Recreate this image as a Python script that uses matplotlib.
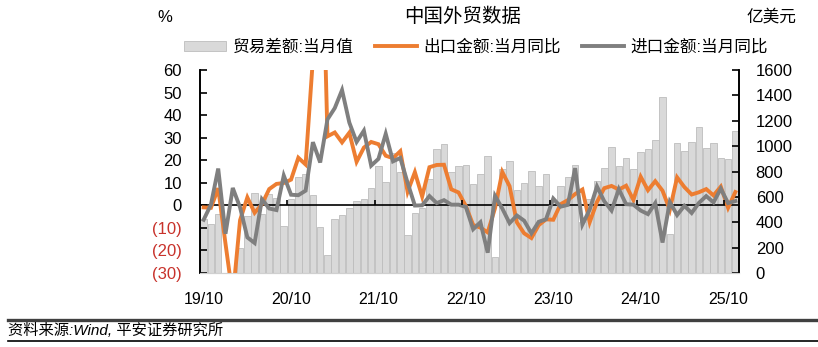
import numpy as np
import matplotlib
matplotlib.use('Agg')
import matplotlib.pyplot as plt
from matplotlib.patches import Patch
from matplotlib.lines import Line2D

plt.rcParams['font.family'] = ['Liberation Sans', 'Noto Sans CJK SC', 'DejaVu Sans']
plt.rcParams['axes.unicode_minus'] = False

# 2019/10 ~ 2025/11 月度数据
months = [f'{y % 100:02d}/{m:02d}' for y in range(2019, 2026) for m in range(1, 13)][9:9 + 74]

# 贸易差额:当月值 (亿美元)
balance = [428, 387, 468, np.nan, np.nan, 199, 453, 630, 464, 623, 589, 370,
           584, 754, 781, 617, 362, 138, 428, 455, 515, 566, 583, 667,
           845, 717, 944, 800, 300, 473, 511, 740, 979, 1013, 793, 847,
           852, 698, 780, 920, 126, 820, 880, 658, 706, 806, 683, 777,
           566, 684, 753, 850, 400, 585, 723, 826, 990, 846, 910, 817,
           957, 974, 1048, 1391, 310, 1027, 961, 1032, 1148, 982, 1023, 905,
           901, 1116]

# 出口金额:当月同比 (%)
export_yoy = [-0.9, -1.1, 7.6, -17.0, -40.6, -6.6, 3.5, -3.3, 0.5, 7.2, 9.5, 9.9,
              11.4, 21.1, 18.1, 65.0, 154.9, 30.6, 32.3, 27.9, 32.2, 19.3, 25.6, 28.1,
              27.1, 22.0, 20.9, 24.0, 6.0, 14.7, 3.9, 16.9, 17.9, 18.0, 7.1, 5.7,
              -0.3, -8.7, -9.9, -12.0, -1.3, 14.8, 8.5, -7.5, -12.4, -14.5, -8.8, -6.2,
              -6.4, 0.5, 2.3, 5.0, 7.0, -7.5, 1.5, 7.6, 8.6, 7.0, 8.7, 2.4,
              12.7, 6.7, 10.7, 6.5, -2.0, 12.4, 8.1, 4.8, 5.8, 7.2, 4.4, 8.3,
              -1.1, 5.9]

# 进口金额:当月同比 (%)
import_yoy = [-6.4, 0.3, 16.3, -12.6, 7.7, -0.9, -14.2, -16.7, 2.7, -1.4, -2.1, 13.2,
              4.7, 4.5, 6.5, 28.0, 19.0, 38.1, 43.1, 51.1, 36.7, 28.1, 33.1, 17.6,
              20.6, 31.7, 19.5, 21.0, 10.0, -0.1, 0.0, 4.1, 1.0, 2.3, 0.3, 0.3,
              -0.7, -10.6, -7.5, -21.0, 4.2, -1.4, -7.9, -4.5, -6.8, -12.4, -7.3, -6.2,
              3.0, -0.6, 0.2, 16.5, -8.5, -1.9, 8.4, 1.8, -2.3, 7.2, 0.5, 0.3,
              -2.3, -3.9, 1.0, -16.5, 1.5, -4.3, -0.2, -3.4, 1.1, 4.1, 1.3, 7.4,
              1.0, 1.9]

left_ticks = [-30, -20, -10, 0, 10, 20, 30, 40, 50, 60]
right_ticks = [0, 200, 400, 600, 800, 1000, 1200, 1400, 1600]

ORANGE = '#ED7D31'
GREY = '#7F7F7F'
BAR = '#D9D9D9'
RED = '#C8322B'

x = np.arange(len(months))

fig = plt.figure(figsize=(8.18, 3.47), dpi=100)
ax = fig.add_axes([200 / 818, 74 / 347, 539 / 818, 203 / 347])
axb = ax.twinx()
ax.set_zorder(axb.get_zorder() + 1)
ax.patch.set_visible(False)

# 柱状: 贸易差额(右轴)
axb.bar(x, balance, width=0.9, color=BAR, edgecolor='#BDBDBD', linewidth=0.6)
axb.set_ylim(0, 1600)
axb.set_yticks(right_ticks)
axb.tick_params(axis='y', direction='in', length=5, width=1.2, pad=12, labelsize=12)

# 折线: 出口、进口同比(左轴)
ax.plot(x, export_yoy, color=ORANGE, lw=2.8, solid_joinstyle='miter')
ax.plot(x, import_yoy, color=GREY, lw=2.8, solid_joinstyle='miter')
ax.axhline(0, color='black', lw=1.2, zorder=1)
ax.set_ylim(-30, 60)
ax.set_xlim(-0.5, len(months) - 0.5)
ax.set_yticks(left_ticks)
ax.set_yticklabels([f'({-t})' if t < 0 else str(t) for t in left_ticks])
for lab, t in zip(ax.get_yticklabels(), left_ticks):
    if t < 0:
        lab.set_color(RED)
ax.tick_params(axis='y', direction='in', length=5, width=1.2, pad=13, labelsize=12)

# 横轴: 每年10月标注, 刻度画在零线上
label_idx = [i for i, m in enumerate(months) if m.endswith('/10')]
ax.set_xticks(label_idx)
ax.set_xticklabels([months[i] for i in label_idx], fontsize=11.5)
ax.tick_params(axis='x', length=0, pad=14)
ax.vlines([i - 0.5 for i in label_idx[1:]], 0, 2.3, color='black', lw=1.2)

for a in (ax, axb):
    a.spines['top'].set_visible(False)
    a.spines['bottom'].set_color('#D0D0D0')
    a.spines['left'].set_linewidth(1.2)
    a.spines['right'].set_linewidth(1.2)

# 标题与单位
fig.text(463 / 818, 1 - 17 / 347, '中国外贸数据', ha='center', va='center', fontsize=14,
         fontweight='medium')
fig.text(165 / 818, 1 - 17 / 347, '%', ha='center', va='center', fontsize=12)
fig.text(771 / 818, 1 - 17 / 347, '亿美元', ha='center', va='center', fontsize=12)

handles = [Patch(facecolor=BAR, edgecolor='#BDBDBD', linewidth=0.6),
           Line2D([], [], color=ORANGE, lw=2.8),
           Line2D([], [], color=GREY, lw=2.8)]
labels = ['贸易差额:当月值', '出口金额:当月同比', '进口金额:当月同比']
fig.legend(handles, labels, loc='center left', bbox_to_anchor=(184 / 818, 1 - 47 / 347),
           ncol=3, frameon=False, fontsize=12, handlelength=2.5, handleheight=0.55,
           handletextpad=0.4, columnspacing=1.3, borderpad=0, borderaxespad=0)

# 底部来源
fig.add_artist(Line2D([8 / 818, 1], [1 - 320 / 347] * 2, transform=fig.transFigure,
                      color='#404040', lw=2.4))
fig.add_artist(Line2D([8 / 818, 1], [1 - 341 / 347] * 2, transform=fig.transFigure,
                      color='black', lw=1.2))
fig.text(8 / 818, 1 - 330 / 347, '资料来源:Wind, 平安证券研究所', ha='left', va='center',
         fontsize=11, style='italic')

fig.savefig('out.png', dpi=100)
